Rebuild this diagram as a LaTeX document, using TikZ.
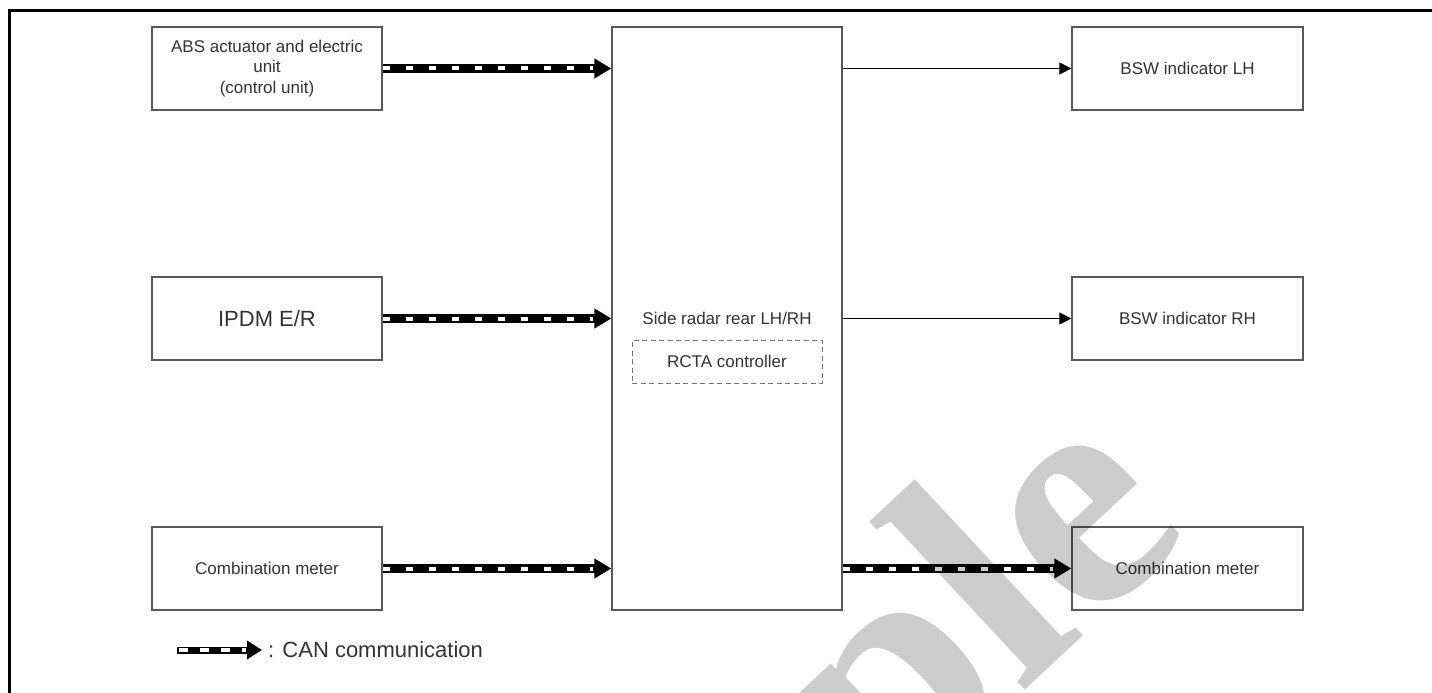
\documentclass[tikz,border=0pt]{standalone}
\usepackage{fontspec}
\setmainfont{Liberation Sans}
\newfontfamily\wmfont{Liberation Serif}
\usetikzlibrary{arrows.meta}
\begin{document}
\begin{tikzpicture}[x=1pt,y=-1pt,
  box/.style={draw=black!65, line width=1.3pt, minimum width=230pt, minimum height=83pt,
    inner sep=0pt, text=black!80, font=\fontsize{17}{20.5}\selectfont, align=center},
  lbl/.style={inner sep=0pt, text=black!80, font=\fontsize{17}{20.5}\selectfont},
  canline/.style={line width=9pt, -{Triangle[length=17pt,width=19pt]}},
  candash/.style={line width=4pt, white, dash pattern=on 7pt off 16pt, shorten >=18pt},
  thinarrow/.style={line width=1.2pt, -{Triangle[length=12pt,width=12pt]}}]
\useasboundingbox (0,0) rectangle (1432,693);
% frame
\draw[line width=2.7pt] (9.5,693) -- (9.5,10.5) -- (1432,10.5);
% left boxes
\node[box] (abs) at (267,68.5) {ABS actuator and electric\\unit\\(control unit)};
\node[box, font=\fontsize{22}{26}\selectfont] (ipdm) at (267,318.5) {IPDM E/R};
\node[box] (cml) at (267,568.5) {Combination meter};
% centre
\node[box, minimum height=583pt] (radar) at (727,318.5) {};
\node[lbl] (radarlbl) at (727,318.5) {Side radar rear LH/RH};
\node[draw=black!55, line width=1pt, dash pattern=on 5pt off 3.5pt, minimum width=190pt,
  minimum height=43pt, lbl] (rcta) at (727,361.5) {RCTA controller};
% right boxes
\node[box, minimum width=231pt] (bswl) at (1187.5,68.5) {BSW indicator LH};
\node[box, minimum width=231pt] (bswr) at (1187.5,318.5) {BSW indicator RH};
\node[box, minimum width=231pt] (cmr) at (1187.5,568.5) {Combination meter};
% CAN connectors
\foreach \n in {abs,ipdm,cml}{
  \draw[canline] (\n.east) -- (\n.east -| radar.west);
  \draw[candash] (\n.east) -- (\n.east -| radar.west);
}
\draw[canline] (radar.east |- cmr.west) -- (cmr.west);
\draw[candash] (radar.east |- cmr.west) -- (cmr.west);
% thin connectors
\draw[thinarrow] (radar.east |- bswl.west) -- (bswl.west);
\draw[thinarrow] (radar.east |- bswr.west) -- (bswr.west);
% legend
\coordinate (lgA) at (177,650);
\coordinate (lgB) at (262,650);
\draw[line width=7pt, -{Triangle[length=15pt,width=18pt]}] (lgA) -- (lgB);
\draw[line width=3.5pt, white, dash pattern=on 9pt off 12pt, shorten <=2pt, shorten >=16pt] (lgA) -- (lgB);
\node[anchor=west, inner sep=0pt, text=black!80, font=\fontsize{22}{26}\selectfont] (lgtext) at (268,650) {: CAN communication};
% watermark
\begin{scope}
\clip (0,0) rectangle (1432,693);
\node[rotate=43, anchor=base west, inner sep=0pt, text=black, text opacity=0.2,
  font=\wmfont\bfseries\fontsize{330}{330}\selectfont] (wm) at (430,1245) {Sample};
\end{scope}
\end{tikzpicture}
\end{document}
